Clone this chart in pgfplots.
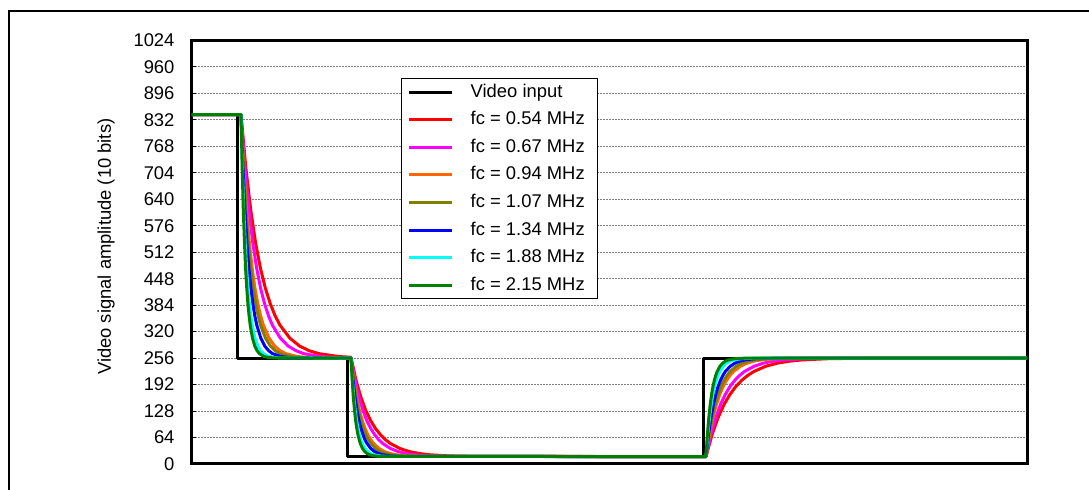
\documentclass[border=0pt]{standalone}
\usepackage{fontspec}
\setmainfont{Liberation Sans}
\usepackage{pgfplots}
\pgfplotsset{compat=1.18}
\definecolor{cRed}{RGB}{255,0,0}
\definecolor{cMagenta}{RGB}{255,0,255}
\definecolor{cOrange}{RGB}{255,102,0}
\definecolor{cOlive}{RGB}{128,128,0}
\definecolor{cBlue}{RGB}{0,0,255}
\definecolor{cCyan}{RGB}{0,255,255}
\definecolor{cGreen}{RGB}{0,128,0}
\definecolor{cGrid}{RGB}{128,128,128}
\begin{document}
\fontsize{9.2}{11}\selectfont
\begin{tikzpicture}
\useasboundingbox (0,0) rectangle (544.5pt,245pt);
\fill[white] (0,0) rectangle (544.5pt,245pt);
\draw[line width=1pt] (4.5pt,-10pt) -- (4.5pt,239.5pt) -- (560pt,239.5pt);
\begin{axis}[
  at={(96pt,13pt)}, anchor=south west,
  scale only axis, width=417.5pt, height=211.75pt,
  xmin=0, xmax=835, ymin=0, ymax=1024,
  xtick=\empty, ytick={0,64,...,1024}, ytick pos=left,
  ymajorgrids, grid style={cGrid, line width=0.5pt, dash pattern=on 1pt off 0.5pt},
  axis line style={line width=1.5pt},
  tick style={black, line width=0.5pt}, major tick length=2pt, tick align=inside,
  /pgf/number format/assume math mode=true, /pgf/number format/1000 sep={},
  yticklabel style={font=\fontsize{9.2}{11}\selectfont, xshift=-5.5pt},
  ylabel={Video signal amplitude (10 bits)},
  ylabel style={at={(axis description cs:-0.103,0.513)}, anchor=center, font=\fontsize{9.2}{11}\selectfont},
  legend style={at={(axis description cs:0.2503,0.9115)}, anchor=north west, draw=black, line width=0.5pt, fill=white,
    inner xsep=2.9pt, inner ysep=2.3pt, row sep=4.8pt, column sep=8.5pt, font=\fontsize{9.2}{11}\selectfont,
    nodes={inner sep=0pt, text height=7pt, text depth=2pt}},
  legend cell align=left,
  legend image code/.code={\draw[#1] (0pt,0pt) -- (21.7pt,0pt);},
  every axis plot/.append style={line width=1.5pt, line join=round},
]
\addplot[black] coordinates {(0,845) (45,845) (45,256) (155,256) (155,18) (511,18) (511,256) (835,256)};
\addlegendentry{Video input}
\addplot[cRed] coordinates {(0,845) (49,845) (53.9,714.7) (58.8,613.2) (63.6,534.2) (68.5,472.7) (73.4,424.7) (78.3,387.4) (83.1,358.4) (88,335.7) (97.8,304.4) (107.5,285.3) (117.3,273.8) (127,266.8) (146.5,259.9) (159,258)
(163.9,203.4) (168.8,162.3) (173.6,130.4) (178.5,105.6) (183.4,86.2) (188.3,71.1) (193.1,59.4) (198,50.2) (207.8,37.5) (217.5,29.9) (227.3,25.2) (237,22.4) (256.5,19.6) (276,18.6) (295.5,18.2)
(514,18) (520,70.6) (526,111.7) (532,143.6) (538,168.4) (544,187.8) (550,202.9) (556,214.6) (562,223.8) (574,236.5) (586,244.1) (598,248.8) (610,251.6) (634,254.4) (658,255.4) (682,255.8) (835,256)};
\addlegendentry{fc = 0.54 MHz\rule{3.5pt}{0pt}}
\addplot[cMagenta] coordinates {(0,845) (49,845) (52.9,714.7) (56.9,613.2) (60.8,534.2) (64.7,472.7) (68.6,424.7) (72.6,387.4) (76.5,358.4) (80.4,335.7) (88.3,304.4) (96.1,285.3) (104,273.8) (111.8,266.8) (127.5,259.9) (143.2,257.5) (159,256)
(162.9,203.4) (166.9,162.3) (170.8,130.4) (174.7,105.6) (178.6,86.2) (182.6,71.1) (186.5,59.4) (190.4,50.2) (198.3,37.5) (206.1,29.9) (214,25.2) (221.8,22.4) (237.5,19.6) (253.2,18.6) (268.9,18.2)
(514,18) (518.8,70.6) (523.7,111.7) (528.5,143.6) (533.3,168.4) (538.1,187.8) (543,202.9) (547.8,214.6) (552.6,223.8) (562.3,236.5) (571.9,244.1) (581.6,248.8) (591.2,251.6) (610.5,254.4) (629.8,255.4) (649.1,255.8) (835,256)};
\addlegendentry{fc = 0.67 MHz}
\addplot[cOrange] coordinates {(0,845) (49,845) (51.8,714.7) (54.6,613.2) (57.4,534.2) (60.2,472.7) (63,424.7) (65.8,387.4) (68.6,358.4) (71.4,335.7) (77,304.4) (82.6,285.3) (88.2,273.8) (93.8,266.8) (105,259.9) (116.2,257.5) (127.4,256.5) (159,256)
(161.8,203.4) (164.6,162.3) (167.4,130.4) (170.2,105.6) (173,86.2) (175.8,71.1) (178.6,59.4) (181.4,50.2) (187,37.5) (192.6,29.9) (198.2,25.2) (203.8,22.4) (215,19.6) (226.2,18.6) (237.4,18.2)
(514,18) (517.5,70.6) (520.9,111.7) (524.4,143.6) (527.8,168.4) (531.3,187.8) (534.7,202.9) (538.2,214.6) (541.6,223.8) (548.5,236.5) (555.4,244.1) (562.3,248.8) (569.2,251.6) (583,254.4) (596.8,255.4) (610.6,255.8) (835,256)};
\addlegendentry{fc = 0.94 MHz}
\addplot[cOlive] coordinates {(0,845) (49,845) (51.5,714.7) (53.9,613.2) (56.4,534.2) (58.8,472.7) (61.3,424.7) (63.7,387.4) (66.2,358.4) (68.6,335.7) (73.5,304.4) (78.4,285.3) (83.3,273.8) (88.2,266.8) (98,259.9) (107.8,257.5) (117.6,256.5) (159,256)
(161.5,203.4) (163.9,162.3) (166.4,130.4) (168.8,105.6) (171.3,86.2) (173.7,71.1) (176.2,59.4) (178.6,50.2) (183.5,37.5) (188.4,29.9) (193.3,25.2) (198.2,22.4) (208,19.6) (217.8,18.6) (227.6,18.2)
(514,18) (517,70.6) (520.1,111.7) (523.1,143.6) (526.1,168.4) (529.1,187.8) (532.2,202.9) (535.2,214.6) (538.2,223.8) (544.3,236.5) (550.3,244.1) (556.4,248.8) (562.4,251.6) (574.5,254.4) (586.6,255.4) (598.7,255.8) (835,256)};
\addlegendentry{fc = 1.07 MHz}
\addplot[cBlue] coordinates {(0,845) (49,845) (51,714.7) (53,613.2) (54.9,534.2) (56.9,472.7) (58.9,424.7) (60.9,387.4) (62.8,358.4) (64.8,335.7) (68.8,304.4) (72.7,285.3) (76.7,273.8) (80.6,266.8) (88.5,259.9) (96.4,257.5) (104.3,256.5) (159,256)
(161,203.4) (163,162.3) (164.9,130.4) (166.9,105.6) (168.9,86.2) (170.9,71.1) (172.8,59.4) (174.8,50.2) (178.8,37.5) (182.7,29.9) (186.7,25.2) (190.6,22.4) (198.5,19.6) (206.4,18.6) (214.3,18.2)
(514,18) (516.4,70.6) (518.9,111.7) (521.3,143.6) (523.7,168.4) (526.1,187.8) (528.6,202.9) (531,214.6) (533.4,223.8) (538.3,236.5) (543.1,244.1) (548,248.8) (552.8,251.6) (562.5,254.4) (572.2,255.4) (581.9,255.8) (835,256)};
\addlegendentry{fc = 1.34 MHz}
\addplot[cCyan] coordinates {(0,845) (49,845) (50.4,714.7) (51.8,613.2) (53.2,534.2) (54.6,472.7) (56,424.7) (57.4,387.4) (58.8,358.4) (60.2,335.7) (63,304.4) (65.8,285.3) (68.6,273.8) (71.4,266.8) (77,259.9) (82.6,257.5) (88.2,256.5) (159,256)
(160.4,203.4) (161.8,162.3) (163.2,130.4) (164.6,105.6) (166,86.2) (167.4,71.1) (168.8,59.4) (170.2,50.2) (173,37.5) (175.8,29.9) (178.6,25.2) (181.4,22.4) (187,19.6) (192.6,18.6) (198.2,18.2)
(514,18) (515.7,70.6) (517.5,111.7) (519.2,143.6) (520.9,168.4) (522.6,187.8) (524.4,202.9) (526.1,214.6) (527.8,223.8) (531.3,236.5) (534.7,244.1) (538.2,248.8) (541.6,251.6) (548.5,254.4) (555.4,255.4) (562.3,255.8) (835,256)};
\addlegendentry{fc = 1.88 MHz}
\addplot[cGreen] coordinates {(0,845) (49,845) (50.2,714.7) (51.3,613.2) (52.5,534.2) (53.6,472.7) (54.8,424.7) (55.9,387.4) (57.1,358.4) (58.2,335.7) (60.5,304.4) (62.8,285.3) (65.1,273.8) (67.4,266.8) (72,259.9) (76.6,257.5) (81.2,256.5) (159,256)
(160.2,203.4) (161.3,162.3) (162.5,130.4) (163.6,105.6) (164.8,86.2) (165.9,71.1) (167.1,59.4) (168.2,50.2) (170.5,37.5) (172.8,29.9) (175.1,25.2) (177.4,22.4) (182,19.6) (186.6,18.6) (191.2,18.2)
(514,18) (515.4,70.6) (516.8,111.7) (518.2,143.6) (519.6,168.4) (521,187.8) (522.4,202.9) (523.8,214.6) (525.2,223.8) (528,236.5) (530.8,244.1) (533.6,248.8) (536.4,251.6) (542,254.4) (547.6,255.4) (553.2,255.8) (835,256)};
\addlegendentry{fc = 2.15 MHz}
\end{axis}
\end{tikzpicture}
\end{document}
